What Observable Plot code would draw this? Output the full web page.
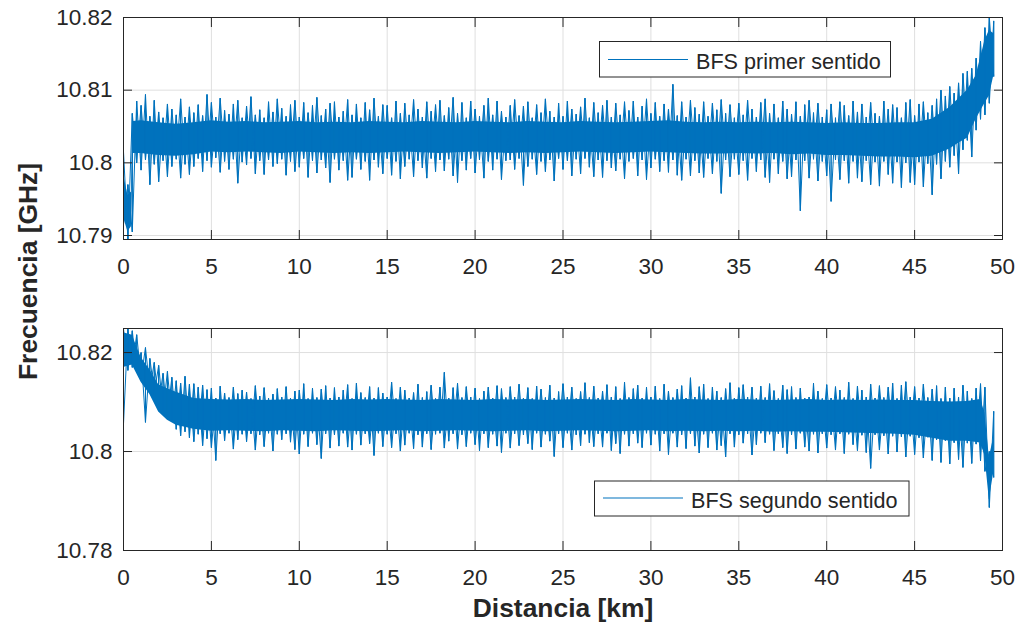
<!DOCTYPE html>
<html>
<head>
<meta charset="utf-8">
<script src="https://cdn.jsdelivr.net/npm/d3@7"></script>
<script src="https://cdn.jsdelivr.net/npm/@observablehq/plot@0.6"></script>
<style>
  body { margin: 0; background: #fff; }
  #wrap { position: relative; width: 1020px; height: 624px; background: #fff; font-family: "Liberation Sans", Arial, sans-serif; color: #262626; overflow: hidden; }
  .panel { position: absolute; left: 0; }
  #overlay { position: absolute; left: 0; top: 0; pointer-events: none; }
</style>
</head>
<body>
<div id="wrap">
  <div id="p1" class="panel" style="top:0px"></div>
  <div id="p2" class="panel" style="top:300px"></div>
  <svg id="overlay" width="1020" height="624" font-family="Liberation Sans, Arial, sans-serif" fill="#262626">
    <text id="ylab" transform="translate(37,271.5) rotate(-90)" text-anchor="middle" font-weight="bold" font-size="26.4"></text>
    <text id="xlab" x="563" y="617" text-anchor="middle" font-weight="bold" font-size="26.4"></text>
    <rect x="599.5" y="41.5" width="291" height="35.5" fill="#fff" stroke="#262626" stroke-width="1"></rect>
    <line x1="608" x2="688" y1="59.5" y2="59.5" stroke="#0072BD" stroke-width="1.2"></line>
    <text id="leg1" x="696" y="68.5" font-size="21.6"></text>
    <rect x="594.5" y="481" width="314.5" height="35" fill="#fff" stroke="#262626" stroke-width="1"></rect>
    <line x1="603" x2="683" y1="498" y2="498" stroke="#0072BD" stroke-width="1.2"></line>
    <text id="leg2" x="691" y="507.5" font-size="21.6"></text>
  </svg>
</div>
<script>
// ---- text ----
const yLabel = "Frecuencia [GHz]";
const xLabel = "Distancia [km]";
const legendTop = "BFS primer sentido";
const legendBottom = "BFS segundo sentido";

// ---- ticks ----
const xTicks = [0, 5, 10, 15, 20, 25, 30, 35, 40, 45, 50];
const yTicksTop = [10.79, 10.80, 10.81, 10.82];
const yTicksBottom = [10.78, 10.80, 10.82];

// ---- sample positions (km) for the extreme values ----
const distKm = [0,0.25,0.5,0.75,1,1.25,1.5,1.75,2,2.25,2.5,2.75,3,3.25,3.5,3.75,4,4.25,4.5,4.75,
5,5.25,5.5,5.75,6,6.25,6.5,6.75,7,7.25,7.5,7.75,8,8.25,8.5,8.75,9,9.25,9.5,9.75,
10,10.25,10.5,10.75,11,11.25,11.5,11.75,12,12.25,12.5,12.75,13,13.25,13.5,13.75,14,14.25,14.5,14.75,
15,15.25,15.5,15.75,16,16.25,16.5,16.75,17,17.25,17.5,17.75,18,18.25,18.5,18.75,19,19.25,19.5,19.75,
20,20.25,20.5,20.75,21,21.25,21.5,21.75,22,22.25,22.5,22.75,23,23.25,23.5,23.75,24,24.25,24.5,24.75,
25,25.25,25.5,25.75,26,26.25,26.5,26.75,27,27.25,27.5,27.75,28,28.25,28.5,28.75,29,29.25,29.5,29.75,
30,30.25,30.5,30.75,31,31.25,31.5,31.75,32,32.25,32.5,32.75,33,33.25,33.5,33.75,34,34.25,34.5,34.75,
35,35.25,35.5,35.75,36,36.25,36.5,36.75,37,37.25,37.5,37.75,38,38.25,38.5,38.75,39,39.25,39.5,39.75,
40,40.25,40.5,40.75,41,41.25,41.5,41.75,42,42.25,42.5,42.75,43,43.25,43.5,43.75,44,44.25,44.5,44.75,
45,45.25,45.5,45.75,46,46.25,46.5,46.75,47,47.25,47.5,47.75,48,48.25,48.5,48.75,49,49.25,49.5];

// ---- BFS primer sentido (GHz): local maxima / minima ----
const topHi = [10.8015,10.7970,10.8068,10.8085, 10.8079,10.8094,10.8064,10.8086, 10.8070,10.8062,10.8081,10.8074, 10.8066,10.8088,10.8063,10.8077, 10.8069,10.8080,10.8065,10.8094,
10.8083,10.8063,10.8089,10.8072, 10.8067,10.8081,10.8086,10.8062, 10.8078,10.8091,10.8066,10.8073, 10.8062,10.8084,10.8070,10.8088, 10.8075,10.8064,10.8080,10.8086,
10.8063,10.8083,10.8069,10.8079, 10.8090,10.8065,10.8074,10.8082, 10.8084,10.8063,10.8071,10.8087, 10.8066,10.8081,10.8062,10.8083, 10.8073,10.8089,10.8064,10.8080,
10.8079,10.8062,10.8085,10.8068, 10.8082,10.8066,10.8087,10.8074, 10.8063,10.8084,10.8071,10.8080, 10.8086,10.8065,10.8076,10.8090, 10.8068,10.8083,10.8062,10.8085,
10.8074,10.8064,10.8079,10.8089, 10.8066,10.8085,10.8071,10.8063, 10.8079,10.8087,10.8065,10.8078, 10.8084,10.8062,10.8080,10.8069, 10.8088,10.8071,10.8063,10.8082,
10.8064,10.8085,10.8074,10.8067, 10.8077,10.8089,10.8062,10.8083, 10.8069,10.8079,10.8086,10.8063, 10.8082,10.8066,10.8084,10.8072, 10.8085,10.8063,10.8078,10.8088,
10.8068,10.8083,10.8064,10.8081, 10.8074,10.8108,10.8065,10.8084, 10.8063,10.8086,10.8076,10.8067, 10.8084,10.8064,10.8082,10.8073, 10.8087,10.8068,10.8080,10.8062,
10.8082,10.8066,10.8086,10.8074, 10.8063,10.8083,10.8088,10.8068, 10.8081,10.8062,10.8085,10.8074, 10.8067,10.8084,10.8064,10.8080, 10.8086,10.8069,10.8082,10.8063,
10.8073,10.8081,10.8062,10.8084, 10.8079,10.8065,10.8085,10.8070, 10.8081,10.8063,10.8083,10.8068, 10.8064,10.8085,10.8074,10.8080, 10.8076,10.8062,10.8083,10.8087,
10.8065,10.8081,10.8084,10.8069, 10.8079,10.8088,10.8100,10.8092, 10.8105,10.8096,10.8110,10.8123, 10.8126,10.8130,10.8144,10.8167, 10.8186,10.8200,10.8195];
const topLo = [10.7915,10.7895,10.7905,10.8000, 10.7990,10.8004,10.7970,10.7998, 10.7974,10.8003,10.7981,10.7995, 10.8005,10.7979,10.7998,10.7984, 10.7995,10.8006,10.7988,10.8003,
10.7994,10.8007,10.7987,10.8002, 10.7991,10.8005,10.7972,10.8001, 10.7997,10.8006,10.7985,10.8003, 10.7984,10.8004,10.7995,10.7999, 10.8005,10.7983,10.8002,10.7988,
10.7994,10.8006,10.7980,10.8003, 10.7986,10.8004,10.7993,10.7973, 10.8005,10.7990,10.8003,10.7976, 10.7980,10.8005,10.7991,10.8002, 10.7976,10.8004,10.7994,10.7985,
10.8006,10.7983,10.8002,10.7978, 10.7995,10.8005,10.7981,10.8003, 10.7993,10.7979,10.8006,10.7988, 10.8004,10.7989,10.8005,10.7982, 10.7973,10.8003,10.7990,10.8006,
10.7986,10.8004,10.7979,10.8002, 10.7990,10.8005,10.7977,10.8003, 10.8004,10.7991,10.8006,10.7969, 10.7995,10.8005,10.7984,10.8002, 10.7988,10.8004,10.7975,10.8006,
10.7991,10.8003,10.7982,10.8005, 10.7985,10.8006,10.7994,10.7981, 10.8004,10.7980,10.8003,10.7993, 10.7989,10.8005,10.7978,10.8002, 10.8006,10.7982,10.8004,10.7977,
10.7993,10.8005,10.7988,10.8003, 10.7987,10.8004,10.7983,10.7976, 10.8005,10.7982,10.8003,10.7986, 10.7980,10.8006,10.7985,10.8002, 10.7958,10.8004,10.7981,10.8005,
10.7984,10.8003,10.7976,10.8006, 10.7988,10.8004,10.7980,10.7973, 10.8005,10.7985,10.8002,10.7978, 10.7981,10.8004,10.7934,10.8003, 10.7979,10.8005,10.7975,10.8002,
10.7982,10.7947,10.8004,10.7977, 10.8003,10.7972,10.8002,10.7979, 10.7974,10.8003,10.7970,10.8001, 10.7968,10.8002,10.7984,10.7972, 10.8001,10.7966,10.8000,10.7973,
10.7970,10.8001,10.7967,10.7999, 10.7956,10.7998,10.7978,10.8002, 10.7994,10.8010,10.7985,10.8018, 10.8031,10.8008,10.8045,10.8060, 10.8066,10.8082,10.8119];
// dense core band of the first trace
const coreKmTop = [0,0.25,0.45,0.55,1,2,3,4,5,6,7,8,9,10,11,12,13,14,15,16,17,18,19,20,21,22,23,24,25,26,27,28,29,30,31,32,33,34,35,36,37,38,39,40,41,42,43,44,45,46,47,47.5,48,48.5,49,49.25,49.5];
const coreLoTop = [10.7925,10.7905,10.7912,10.8013,
10.8013,10.8010,10.8009,10.8011,10.8015,
10.8014,10.8015,10.8014,10.8013,10.8015,10.8014,10.8013,10.8014,10.8013,10.8014,
10.8015,10.8014,10.8013,10.8014,10.8015,10.8014,10.8013,10.8014,10.8013,10.8014,
10.8015,10.8014,10.8013,10.8014,10.8015,10.8014,10.8013,10.8012,10.8012,10.8013,
10.8012,10.8013,10.8011,10.8012,10.8010,10.8010,10.8009,10.8008,10.8008,10.8007,
10.8009,10.8019,
10.8027,10.8034,10.8060,10.8082,10.8092,10.8119];
const coreHiTop = [10.7985,10.7955,10.7960,10.8057,
10.8058,10.8055,10.8053,10.8055,10.8058,
10.8056,10.8057,10.8055,10.8056,10.8057,10.8055,10.8056,10.8055,10.8057,10.8056,
10.8055,10.8057,10.8056,10.8055,10.8057,10.8056,10.8055,10.8057,10.8056,10.8055,
10.8057,10.8056,10.8055,10.8056,10.8057,10.8058,10.8056,10.8055,10.8056,10.8055,
10.8056,10.8055,10.8056,10.8055,10.8054,10.8055,10.8054,10.8054,10.8055,10.8055,
10.8060,10.8076,
10.8088,10.8100,10.8120,10.8168,10.8182,10.8178];

// ---- BFS segundo sentido (GHz): local maxima / minima ----
const botHi = [10.8248,10.8248,10.8244,10.8236, 10.8200,10.8210,10.8188,10.8180, 10.8174,10.8158,10.8162,10.8150, 10.8143,10.8138,10.8152,10.8136, 10.8137,10.8130,10.8134,10.8125,
10.8128,10.8108,10.8132,10.8118, 10.8109,10.8130,10.8117,10.8124, 10.8120,10.8107,10.8133,10.8112, 10.8129,10.8108,10.8116,10.8127, 10.8110,10.8131,10.8108,10.8122,
10.8124,10.8137,10.8107,10.8128, 10.8109,10.8126,10.8133,10.8108, 10.8129,10.8110,10.8124,10.8135, 10.8107,10.8138,10.8119,10.8109, 10.8131,10.8108,10.8129,10.8118,
10.8110,10.8140,10.8107,10.8130, 10.8124,10.8108,10.8119,10.8136, 10.8109,10.8121,10.8134,10.8107, 10.8130,10.8160,10.8108,10.8129, 10.8138,10.8109,10.8131,10.8110,
10.8128,10.8107,10.8122,10.8130, 10.8108,10.8133,10.8127,10.8109, 10.8131,10.8110,10.8136,10.8108, 10.8129,10.8107,10.8132,10.8126, 10.8109,10.8134,10.8108,10.8121,
10.8137,10.8110,10.8130,10.8107, 10.8121,10.8139,10.8109,10.8132, 10.8108,10.8122,10.8135,10.8110, 10.8131,10.8107,10.8140,10.8109, 10.8127,10.8134,10.8108,10.8130,
10.8110,10.8132,10.8107,10.8136, 10.8122,10.8109,10.8126,10.8133, 10.8108,10.8149,10.8110,10.8131, 10.8136,10.8107,10.8130,10.8122, 10.8109,10.8127,10.8139,10.8108,
10.8129,10.8135,10.8110,10.8130, 10.8108,10.8132,10.8109,10.8137, 10.8123,10.8107,10.8134,10.8125, 10.8131,10.8109,10.8128,10.8108, 10.8110,10.8138,10.8122,10.8107,
10.8135,10.8108,10.8131,10.8124, 10.8109,10.8140,10.8107,10.8132, 10.8124,10.8110,10.8136,10.8108, 10.8133,10.8109,10.8130,10.8138, 10.8107,10.8134,10.8141,10.8110,
10.8131,10.8108,10.8136,10.8109, 10.8126,10.8133,10.8107,10.8130, 10.8108,10.8128,10.8110,10.8134, 10.8122,10.8107,10.8128,10.8137, 10.8130,10.8000,10.8081];
const botLo = [10.8056,10.8164,10.8170,10.8160, 10.8148,10.8059,10.8125,10.8118, 10.8096,10.8082,10.8070,10.8062, 10.8045,10.8032,10.8040,10.8028, 10.8020,10.8035,10.8012,10.8026,
10.8008,10.7982,10.8036,10.8022, 10.8037,10.8005,10.8024,10.8035, 10.8020,10.8036,10.8003,10.8034, 10.8010,10.8037,10.8001,10.8035, 10.8024,10.8036,10.8019,10.8004,
10.7995,10.8035,10.8010,10.8037, 10.8014,10.7986,10.8036,10.8007, 10.8034,10.8011,10.8037,10.8009, 10.8003,10.8035,10.8013,10.8036, 10.8016,10.7992,10.8037,10.8010,
10.8035,10.8008,10.8036,10.8001, 10.8013,10.8037,10.8006,10.8034, 10.8009,10.8036,10.8004,10.8035, 10.8037,10.8007,10.8021,10.8036, 10.8005,10.8034,10.8010,10.8037,
10.8014,10.8002,10.8036,10.8008, 10.8035,10.8011,10.7998,10.8037, 10.8007,10.8036,10.8012,10.8034, 10.8016,10.8004,10.8037,10.8009, 10.8035,10.8021,10.7990,10.8036,
10.8008,10.8037,10.8003,10.8034, 10.8012,10.8035,10.8018,10.8010, 10.8036,10.8009,10.8037,10.8002, 10.8016,10.7996,10.8035,10.8011, 10.8036,10.8017,10.8008,10.8037,
10.8013,10.8035,10.8001,10.8036, 10.7994,10.8037,10.8009,10.8034, 10.8006,10.8036,10.8011,10.7997, 10.8035,10.8008,10.8037,10.8003, 10.8012,10.7989,10.8036,10.8009,
10.8034,10.8017,10.8036,10.7993, 10.8014,10.8037,10.8018,10.8035, 10.8002,10.8036,10.8008,10.7996, 10.8034,10.8005,10.8037,10.8009, 10.8001,10.8035,10.7997,10.8036,
10.8007,10.8034,10.8003,10.8036, 10.7996,10.8035,10.8014,10.8002, 10.8033,10.7998,10.7966,10.8034, 10.8003,10.8032,10.7995,10.8031, 10.7999,10.8030,10.7989,10.8031,
10.7994,10.8028,10.7987,10.8029, 10.7982,10.8024,10.7978,10.8022, 10.7975,10.8018,10.7984,10.7968, 10.8017,10.7976,10.8015,10.7981, 10.7960,10.7887,10.7948];
// dense core band of the second trace
const coreKmBot = [0,0.5,1,1.5,2,2.5,3,4,5,6,7,8,9,10,11,12,13,14,15,16,17,18,19,20,21,22,23,24,25,26,27,28,29,30,31,32,33,34,35,36,37,38,39,40,41,42,43,44,45,46,47,48,48.75,49,49.25,49.5];
const coreLoBot = [10.8170,10.8175,10.8140,10.8115,10.8080,10.8063,10.8053,
10.8045,10.8041,10.8042,10.8041,10.8040,10.8042,10.8041,10.8040,10.8042,10.8041,
10.8040,10.8041,10.8042,10.8040,10.8041,10.8042,10.8041,10.8040,10.8041,10.8042,
10.8040,10.8041,10.8042,10.8041,10.8040,10.8041,10.8042,10.8040,10.8041,10.8040,
10.8041,10.8040,10.8041,10.8039,10.8040,10.8039,10.8039,10.8038,10.8037,10.8036,
10.8035,10.8033,10.8027,10.8021,10.8021,
10.8017,10.7992,10.7902,10.7957];
const coreHiBot = [10.8240,10.8235,10.8190,10.8165,10.8135,10.8127,10.8120,
10.8107,10.8105,10.8104,10.8105,10.8103,10.8104,10.8105,10.8104,10.8103,10.8105,
10.8104,10.8105,10.8104,10.8103,10.8105,10.8104,10.8103,10.8105,10.8104,10.8105,
10.8103,10.8104,10.8105,10.8104,10.8103,10.8105,10.8104,10.8103,10.8105,10.8104,
10.8103,10.8105,10.8104,10.8103,10.8104,10.8105,10.8103,10.8104,10.8103,10.8104,
10.8103,10.8103,10.8101,10.8100,10.8101,
10.8105,10.8078,10.7988,10.8028];

// ---- drawing ----
const BLUE = "#0072BD";
const INK = "#262626";
const GRID = "#dfdfdf";
const fmtY = d => d.toFixed(2).replace(/0$/, "");

function panel({hi, lo, coreKm, coreLo, coreHi, yDomain, yTicks, height, marginTop, marginBottom}) {
  // the same extremes traversed in two orders (max→min and min→max) so the
  // segments between samples cross, as the dense original trace does
  const traceA = distKm.flatMap((d, i) => [{d, f: hi[i]}, {d, f: lo[i]}]);
  const traceB = distKm.flatMap((d, i) => [{d, f: lo[i]}, {d, f: hi[i]}]);
  const core = coreKm.map((d, i) => ({d, lo: coreLo[i], hi: coreHi[i]}));
  return Plot.plot({
    width: 1020,
    height,
    marginLeft: 123,
    marginRight: 18,
    marginTop,
    marginBottom,
    style: {fontFamily: "Liberation Sans, Arial, sans-serif", fontSize: "22.5px", color: INK, background: "transparent", overflow: "visible"},
    x: {domain: [0, 50]},
    y: {domain: yDomain},
    marks: [
      Plot.gridX(xTicks, {stroke: GRID, strokeOpacity: 1}),
      Plot.gridY(yTicks, {stroke: GRID, strokeOpacity: 1}),
      Plot.areaY(core, {x: "d", y1: "lo", y2: "hi", fill: BLUE, clip: true}),
      Plot.line(traceA, {x: "d", y: "f", stroke: BLUE, strokeWidth: 1, clip: true}),
      Plot.line(traceB, {x: "d", y: "f", stroke: BLUE, strokeWidth: 1, clip: true}),
      Plot.frame({stroke: INK, strokeWidth: 1}),
      Plot.axisX(xTicks, {anchor: "bottom", tickSize: -9, tickFormat: () => "", label: null, stroke: INK}),
      Plot.axisX(xTicks, {anchor: "top", tickSize: -9, tickFormat: () => "", label: null, stroke: INK}),
      Plot.axisY(yTicks, {anchor: "left", tickSize: -9, tickFormat: () => "", label: null, stroke: INK}),
      Plot.axisY(yTicks, {anchor: "right", tickSize: -9, tickFormat: () => "", label: null, stroke: INK}),
      Plot.axisX(xTicks, {anchor: "bottom", tickSize: 0, tickPadding: 18.5, tickFormat: d => String(d), label: null, fill: INK}),
      Plot.axisY(yTicks, {anchor: "left", tickSize: 0, tickPadding: 11, tickFormat: fmtY, label: null, fill: INK})
    ]
  });
}

document.getElementById("p1").append(panel({
  hi: topHi, lo: topLo, coreKm: coreKmTop, coreLo: coreLoTop, coreHi: coreHiTop,
  yDomain: [10.78945, 10.82], yTicks: yTicksTop,
  height: 300, marginTop: 17, marginBottom: 61
}));
document.getElementById("p2").append(panel({
  hi: botHi, lo: botLo, coreKm: coreKmBot, coreLo: coreLoBot, coreHi: coreHiBot,
  yDomain: [10.78, 10.82486], yTicks: yTicksBottom,
  height: 324, marginTop: 28, marginBottom: 74
}));

document.getElementById("ylab").textContent = yLabel;
document.getElementById("xlab").textContent = xLabel;
document.getElementById("leg1").textContent = legendTop;
document.getElementById("leg2").textContent = legendBottom;
</script>
</body>
</html>
